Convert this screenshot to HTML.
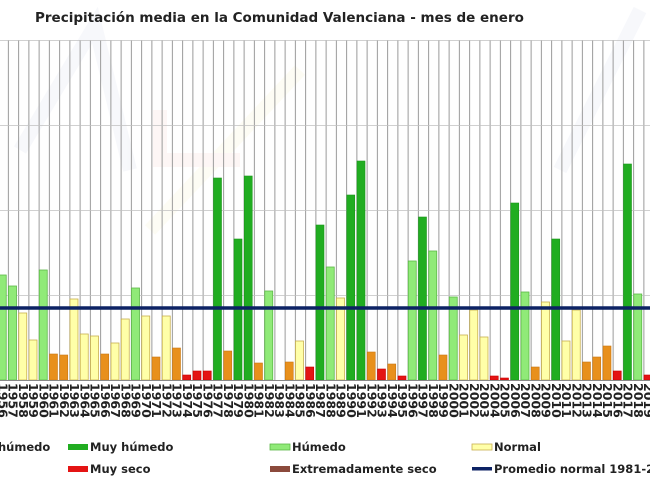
<!DOCTYPE html>
<html><head><meta charset="utf-8"><style>
html,body{margin:0;padding:0;background:#fff;}
svg{display:block;font-family:"DejaVu Sans","Liberation Sans",sans-serif;}
.G{fill:#21ad21;stroke:#1c961c;stroke-width:.6}
.L{fill:#90ea78;stroke:#5cb848;stroke-width:.8}
.Y{fill:#ffffa8;stroke:#c8b050;stroke-width:.8}
.O{fill:#e8901c;stroke:#c87814;stroke-width:.6}
.R{fill:#e41414;stroke:#c00;stroke-width:.6}
.yl{font-size:12.5px;font-weight:bold;fill:#222}
.lg{font-size:11.5px;font-weight:bold;fill:#222}
</style></head><body>
<svg width="650" height="487" viewBox="0 0 650 487" xmlns="http://www.w3.org/2000/svg">
<defs>
<pattern id="vg" x="7.875" y="0" width="10.25" height="487" patternUnits="userSpaceOnUse">
<rect x="0" y="0" width="1" height="487" fill="#9a9a9a"/>
</pattern>
</defs>
<rect width="650" height="487" fill="#fff"/>
<g fill="none" stroke-width="14" opacity="0.04">
<path d="M20 150 L95 25 L130 170" stroke="#3050a0"/>
<path d="M150 230 L300 70" stroke="#e0c000"/>
<path d="M160 110 L160 160 L240 160" stroke="#e04020"/>
<path d="M560 170 L640 10" stroke="#3050a0"/>
</g>
<text x="35" y="22" font-size="13.5" font-weight="bold" fill="#222">Precipitación media en la Comunidad Valenciana - mes de enero</text>
<rect x="0" y="40" width="650" height="340" fill="url(#vg)"/>
<g stroke="#c0c0c0" stroke-width="0.8">
<line x1="0" y1="40.5" x2="650" y2="40.5"/>
<line x1="0" y1="125.5" x2="650" y2="125.5"/>
<line x1="0" y1="210.5" x2="650" y2="210.5"/>
<line x1="0" y1="295.5" x2="650" y2="295.5"/>
</g>
<rect class="L" x="-1.75" y="275" width="8" height="105"/>
<rect class="L" x="8.5" y="286" width="8" height="94"/>
<rect class="Y" x="18.75" y="313" width="8" height="67"/>
<rect class="Y" x="29" y="340" width="8" height="40"/>
<rect class="L" x="39.25" y="270" width="8" height="110"/>
<rect class="O" x="49.5" y="354" width="8" height="26"/>
<rect class="O" x="59.75" y="355" width="8" height="25"/>
<rect class="Y" x="70" y="299" width="8" height="81"/>
<rect class="Y" x="80.25" y="334" width="8" height="46"/>
<rect class="Y" x="90.5" y="336" width="8" height="44"/>
<rect class="O" x="100.75" y="354" width="8" height="26"/>
<rect class="Y" x="111" y="343" width="8" height="37"/>
<rect class="Y" x="121.25" y="319" width="8" height="61"/>
<rect class="L" x="131.5" y="288" width="8" height="92"/>
<rect class="Y" x="141.75" y="316" width="8" height="64"/>
<rect class="O" x="152" y="357" width="8" height="23"/>
<rect class="Y" x="162.25" y="316" width="8" height="64"/>
<rect class="O" x="172.5" y="348" width="8" height="32"/>
<rect class="R" x="182.75" y="375" width="8" height="5"/>
<rect class="R" x="193" y="371" width="8" height="9"/>
<rect class="R" x="203.25" y="371" width="8" height="9"/>
<rect class="G" x="213.5" y="178" width="8" height="202"/>
<rect class="O" x="223.75" y="351" width="8" height="29"/>
<rect class="G" x="234" y="239" width="8" height="141"/>
<rect class="G" x="244.25" y="176" width="8" height="204"/>
<rect class="O" x="254.5" y="363" width="8" height="17"/>
<rect class="L" x="264.75" y="291" width="8" height="89"/>
<rect class="O" x="285.25" y="362" width="8" height="18"/>
<rect class="Y" x="295.5" y="341" width="8" height="39"/>
<rect class="R" x="305.75" y="367" width="8" height="13"/>
<rect class="G" x="316" y="225" width="8" height="155"/>
<rect class="L" x="326.25" y="267" width="8" height="113"/>
<rect class="Y" x="336.5" y="298" width="8" height="82"/>
<rect class="G" x="346.75" y="195" width="8" height="185"/>
<rect class="G" x="357" y="161" width="8" height="219"/>
<rect class="O" x="367.25" y="352" width="8" height="28"/>
<rect class="R" x="377.5" y="369" width="8" height="11"/>
<rect class="O" x="387.75" y="364" width="8" height="16"/>
<rect class="R" x="398" y="376" width="8" height="4"/>
<rect class="L" x="408.25" y="261" width="8" height="119"/>
<rect class="G" x="418.5" y="217" width="8" height="163"/>
<rect class="L" x="428.75" y="251" width="8" height="129"/>
<rect class="O" x="439" y="355" width="8" height="25"/>
<rect class="L" x="449.25" y="297" width="8" height="83"/>
<rect class="Y" x="459.5" y="335" width="8" height="45"/>
<rect class="Y" x="469.75" y="310" width="8" height="70"/>
<rect class="Y" x="480" y="337" width="8" height="43"/>
<rect class="R" x="490.25" y="376" width="8" height="4"/>
<rect class="R" x="500.5" y="378" width="8" height="2"/>
<rect class="G" x="510.75" y="203" width="8" height="177"/>
<rect class="L" x="521" y="292" width="8" height="88"/>
<rect class="O" x="531.25" y="367" width="8" height="13"/>
<rect class="Y" x="541.5" y="302" width="8" height="78"/>
<rect class="G" x="551.75" y="239" width="8" height="141"/>
<rect class="Y" x="562" y="341" width="8" height="39"/>
<rect class="Y" x="572.25" y="310" width="8" height="70"/>
<rect class="O" x="582.5" y="362" width="8" height="18"/>
<rect class="O" x="592.75" y="357" width="8" height="23"/>
<rect class="O" x="603" y="346" width="8" height="34"/>
<rect class="R" x="613.25" y="371" width="8" height="9"/>
<rect class="G" x="623.5" y="164" width="8" height="216"/>
<rect class="L" x="633.75" y="294" width="8" height="86"/>
<rect class="R" x="644" y="375" width="8" height="5"/>
<line x1="0" y1="308" x2="650" y2="308" stroke="#0c2264" stroke-width="3.5"/>
<line x1="0" y1="380.5" x2="650" y2="380.5" stroke="#888" stroke-width="1"/>
<g class="yl">
<text transform="translate(-1.75,383) rotate(90)">1956</text>
<text transform="translate(8.5,383) rotate(90)">1957</text>
<text transform="translate(18.75,383) rotate(90)">1958</text>
<text transform="translate(29,383) rotate(90)">1959</text>
<text transform="translate(39.25,383) rotate(90)">1960</text>
<text transform="translate(49.5,383) rotate(90)">1961</text>
<text transform="translate(59.75,383) rotate(90)">1962</text>
<text transform="translate(70,383) rotate(90)">1963</text>
<text transform="translate(80.25,383) rotate(90)">1964</text>
<text transform="translate(90.5,383) rotate(90)">1965</text>
<text transform="translate(100.75,383) rotate(90)">1966</text>
<text transform="translate(111,383) rotate(90)">1967</text>
<text transform="translate(121.25,383) rotate(90)">1968</text>
<text transform="translate(131.5,383) rotate(90)">1969</text>
<text transform="translate(141.75,383) rotate(90)">1970</text>
<text transform="translate(152,383) rotate(90)">1971</text>
<text transform="translate(162.25,383) rotate(90)">1972</text>
<text transform="translate(172.5,383) rotate(90)">1973</text>
<text transform="translate(182.75,383) rotate(90)">1974</text>
<text transform="translate(193,383) rotate(90)">1975</text>
<text transform="translate(203.25,383) rotate(90)">1976</text>
<text transform="translate(213.5,383) rotate(90)">1977</text>
<text transform="translate(223.75,383) rotate(90)">1978</text>
<text transform="translate(234,383) rotate(90)">1979</text>
<text transform="translate(244.25,383) rotate(90)">1980</text>
<text transform="translate(254.5,383) rotate(90)">1981</text>
<text transform="translate(264.75,383) rotate(90)">1982</text>
<text transform="translate(275,383) rotate(90)">1983</text>
<text transform="translate(285.25,383) rotate(90)">1984</text>
<text transform="translate(295.5,383) rotate(90)">1985</text>
<text transform="translate(305.75,383) rotate(90)">1986</text>
<text transform="translate(316,383) rotate(90)">1987</text>
<text transform="translate(326.25,383) rotate(90)">1988</text>
<text transform="translate(336.5,383) rotate(90)">1989</text>
<text transform="translate(346.75,383) rotate(90)">1990</text>
<text transform="translate(357,383) rotate(90)">1991</text>
<text transform="translate(367.25,383) rotate(90)">1992</text>
<text transform="translate(377.5,383) rotate(90)">1993</text>
<text transform="translate(387.75,383) rotate(90)">1994</text>
<text transform="translate(398,383) rotate(90)">1995</text>
<text transform="translate(408.25,383) rotate(90)">1996</text>
<text transform="translate(418.5,383) rotate(90)">1997</text>
<text transform="translate(428.75,383) rotate(90)">1998</text>
<text transform="translate(439,383) rotate(90)">1999</text>
<text transform="translate(449.25,383) rotate(90)">2000</text>
<text transform="translate(459.5,383) rotate(90)">2001</text>
<text transform="translate(469.75,383) rotate(90)">2002</text>
<text transform="translate(480,383) rotate(90)">2003</text>
<text transform="translate(490.25,383) rotate(90)">2004</text>
<text transform="translate(500.5,383) rotate(90)">2005</text>
<text transform="translate(510.75,383) rotate(90)">2006</text>
<text transform="translate(521,383) rotate(90)">2007</text>
<text transform="translate(531.25,383) rotate(90)">2008</text>
<text transform="translate(541.5,383) rotate(90)">2009</text>
<text transform="translate(551.75,383) rotate(90)">2010</text>
<text transform="translate(562,383) rotate(90)">2011</text>
<text transform="translate(572.25,383) rotate(90)">2012</text>
<text transform="translate(582.5,383) rotate(90)">2013</text>
<text transform="translate(592.75,383) rotate(90)">2014</text>
<text transform="translate(603,383) rotate(90)">2015</text>
<text transform="translate(613.25,383) rotate(90)">2016</text>
<text transform="translate(623.5,383) rotate(90)">2017</text>
<text transform="translate(633.75,383) rotate(90)">2018</text>
<text transform="translate(644,383) rotate(90)">2019</text>
</g>
<g class="lg">
<text x="-2" y="451">húmedo</text>
<rect x="68" y="444" width="20" height="6" fill="#21ad21"/>
<text x="90" y="451">Muy húmedo</text>
<rect x="270" y="444" width="20" height="6" fill="#90ea78" stroke="#5cb848" stroke-width=".8"/>
<text x="292" y="451">Húmedo</text>
<rect x="472" y="444" width="20" height="6" fill="#ffffa8" stroke="#c8b050" stroke-width=".8"/>
<text x="494" y="451">Normal</text>
<rect x="68" y="466" width="20" height="6" fill="#e41414"/>
<text x="90" y="473">Muy seco</text>
<rect x="270" y="466" width="20" height="6" fill="#8b4a3c"/>
<text x="292" y="473">Extremadamente seco</text>
<rect x="472" y="467" width="20" height="3.5" fill="#0c2264"/>
<text x="494" y="473">Promedio normal 1981-2010</text>
</g>
</svg>
</body></html>
